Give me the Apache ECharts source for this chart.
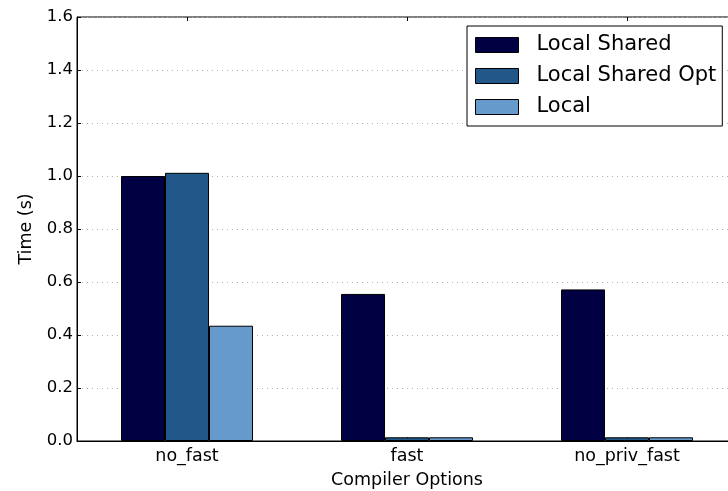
<!DOCTYPE html>
<html>
<head>
<meta charset="utf-8">
<script src="https://cdn.jsdelivr.net/npm/echarts@6/dist/echarts.min.js"></script>
<style>
  html, body { margin: 0; padding: 0; background: #fff; overflow: hidden; }
  /* the plot frame runs a little past the right edge of the window */
  #chart { width: 737px; height: 491px; }
</style>
</head>
<body>
<div id="chart"></div>
<script>
// Compiler option groups on the x axis
const categories = ['no_fast', 'fast', 'no_priv_fast'];

// Run times in seconds for each variant
const localShared = [1.0, 0.555, 0.572];
const localSharedOpt = [1.012, 0.014, 0.014];
const local = [0.435, 0.014, 0.014];

const seriesNames = ['Local Shared', 'Local Shared Opt', 'Local'];
const seriesColors = ['#000042', '#22578a', '#6699cc'];

const FONT = 'DejaVu Sans';
const AXIS_FONT_SIZE = 17.5;

function barSeries(name, data, color) {
  return {
    name: name,
    type: 'bar',
    data: data,
    barWidth: 44,
    barGap: '0%',
    itemStyle: { color: color, borderColor: '#000', borderWidth: 1 },
    emphasis: { disabled: true }
  };
}

const chart = echarts.init(document.getElementById('chart'), null, { renderer: 'canvas' });
chart.setOption({
  animation: false,
  backgroundColor: '#fff',
  textStyle: { fontFamily: FONT },
  grid: {
    left: 77, top: 17, right: 0, bottom: 50,
    outerBoundsMode: 'none',
    containLabel: false,
    show: true, borderColor: '#000', borderWidth: 1, backgroundColor: 'transparent'
  },
  legend: {
    orient: 'vertical',
    left: 467, top: 26,
    padding: [7, 6, 7, 8],
    itemWidth: 43, itemHeight: 15,
    itemGap: 7,
    backgroundColor: '#fff',
    borderColor: '#000', borderWidth: 1, borderRadius: 0,
    icon: 'rect',
    itemStyle: { borderColor: '#000', borderWidth: 1 },
    textStyle: { fontFamily: FONT, fontSize: 21, color: '#000', lineHeight: 24, padding: [0, 0, 0, 13] },
    data: seriesNames
  },
  xAxis: [{
    type: 'category',
    data: categories,
    position: 'bottom',
    name: 'Compiler Options',
    nameLocation: 'middle',
    nameGap: 30,
    nameTextStyle: { fontFamily: FONT, fontSize: AXIS_FONT_SIZE, color: '#000' },
    axisLine: { show: true, lineStyle: { color: '#000', width: 1 } },
    axisTick: { show: true, inside: true, length: 4, alignWithLabel: true, lineStyle: { color: '#000' } },
    axisLabel: { fontFamily: FONT, fontSize: AXIS_FONT_SIZE, color: '#000', margin: 6 },
    splitLine: { show: false }
  }, {
    type: 'category',
    data: categories,
    position: 'top',
    axisLine: { show: false },
    axisTick: { show: true, inside: true, length: 4, alignWithLabel: true, lineStyle: { color: '#000' } },
    axisLabel: { show: false },
    splitLine: { show: false }
  }],
  yAxis: {
    type: 'value',
    min: 0, max: 1.6, interval: 0.2,
    name: 'Time (s)',
    nameLocation: 'middle',
    nameGap: 37,
    nameTextStyle: { fontFamily: FONT, fontSize: AXIS_FONT_SIZE, color: '#000' },
    axisLine: { show: true, lineStyle: { color: '#000', width: 1 } },
    axisTick: { show: true, inside: true, length: 4, lineStyle: { color: '#000' } },
    axisLabel: {
      fontFamily: FONT, fontSize: 16.5, color: '#000', margin: 4,
      formatter: v => v.toFixed(1)
    },
    splitLine: { show: true, lineStyle: { color: '#b0b0b0', type: [1, 4], width: 1 } }
  },
  series: [
    barSeries(seriesNames[0], localShared, seriesColors[0]),
    barSeries(seriesNames[1], localSharedOpt, seriesColors[1]),
    barSeries(seriesNames[2], local, seriesColors[2])
  ]
});
</script>
</body>
</html>
